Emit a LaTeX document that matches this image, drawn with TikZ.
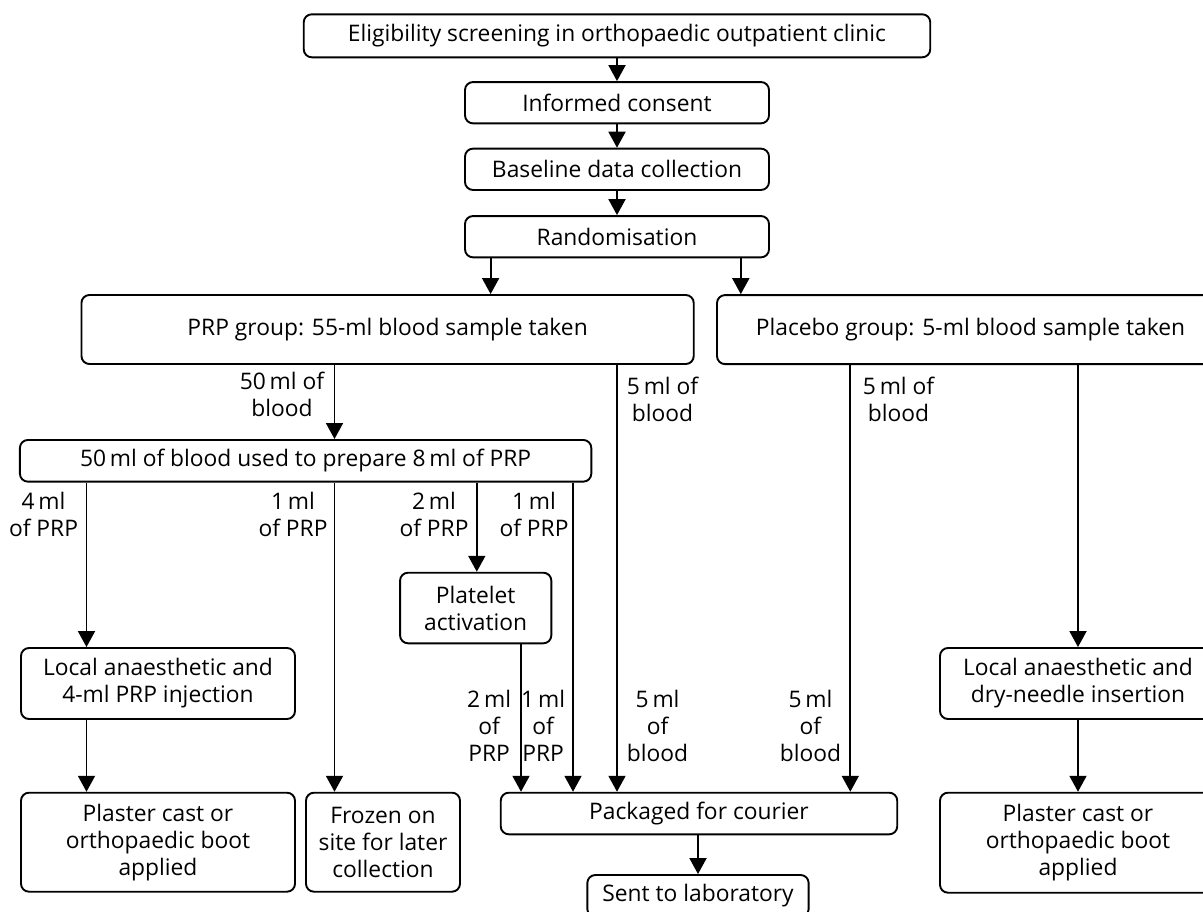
\documentclass[tikz,border=0pt]{standalone}
\usepackage{fontspec}
\setmainfont{Open Sans}
\usetikzlibrary{arrows.meta}
\begin{document}
\begin{tikzpicture}[x=1pt,y=-1pt,
  font=\fontsize{22.8}{27}\selectfont,
  line width=1.9pt,
  box/.style={draw, rounded corners=8pt, inner sep=0pt, align=center, line width=1.9pt},
  arr/.style={-{Triangle[width=17pt,length=16pt]}},
  lbl/.style={align=center, inner sep=0pt}]
\useasboundingbox (0,0) rectangle (1203,911);
\clip (0,0) rectangle (1203,911);

% boxes
\node[box, minimum width=626.5pt, minimum height=43pt] (elig) at (617,35.8) {Eligibility screening in orthopaedic outpatient clinic};
\node[box, minimum width=304pt, minimum height=41.3pt] (consent) at (617,102.7) {Informed consent};
\node[box, minimum width=304pt, minimum height=41.3pt] (base) at (617,169.3) {Baseline data collection};
\node[box, minimum width=304pt, minimum height=41.3pt] (rand) at (617,236.7) {Randomisation};
\node[box, minimum width=612.3pt, minimum height=69pt] (prp) at (387.6,329.5) {PRP group: 55-ml blood sample taken};
\node[box, minimum width=507pt, minimum height=69pt] (plac) at (970.5,329.6) {Placebo group: 5-ml blood sample taken};
\node[box, minimum width=571.4pt, minimum height=41.7pt] (fifty) at (305.6,460.8) {50\,ml of blood used to prepare 8\,ml of PRP};
\node[box, minimum width=151.3pt, minimum height=70.6pt] (act) at (475.7,608) {Platelet\\activation};
\node[box, minimum width=274pt, minimum height=71pt] (loc1) at (158,683.5) {Local anaesthetic and\\4-ml PRP injection};
\node[box, minimum width=274pt, minimum height=99pt] (pl1) at (158,842.2) {Plaster cast or\\orthopaedic boot\\applied};
\node[box, minimum width=154pt, minimum height=99pt] (froz) at (383,842.2) {Frozen on\\site for later\\collection};
\node[box, minimum width=396.5pt, minimum height=41.6pt] (pack) at (699,813.5) {Packaged for courier};
\node[box, minimum width=221.3pt, minimum height=42pt] (sent) at (698,896) {Sent to laboratory};
\node[box, minimum width=276pt, minimum height=71pt] (loc2) at (1078,683.5) {Local anaesthetic and\\dry-needle insertion};
\node[box, minimum width=276pt, minimum height=100pt] (pl2) at (1078,842.7) {Plaster cast or\\orthopaedic boot\\applied};

% x positions of connectors
\coordinate (xR1) at (490.6,0);
\coordinate (xR2) at (740.8,0);
\coordinate (x50) at (334.5,0);
\coordinate (x5a) at (617,0);
\coordinate (x5b) at (850.3,0);
\coordinate (xpl) at (1078,0);
\coordinate (x4) at (86.5,0);
\coordinate (x2) at (476.8,0);
\coordinate (x1b) at (573,0);
\coordinate (xact) at (521,0);

% connectors
\draw[arr] (elig) -- (consent);
\draw[arr] (consent) -- (base);
\draw[arr] (base) -- (rand);
\draw[arr] (rand.south -| xR1) -- (prp.north -| xR1);
\draw[arr] (rand.south -| xR2) -- (plac.north -| xR2);
\draw[arr] (prp.south -| x50) -- (fifty.north -| x50);
\draw[arr] (prp.south -| x5a) -- (pack.north -| x5a);
\draw[arr] (plac.south -| x5b) -- (pack.north -| x5b);
\draw[arr] (plac.south -| xpl) -- (loc2.north -| xpl);
\draw[arr] (loc2) -- (pl2);
\draw[arr] (fifty.south -| x4) -- (loc1.north -| x4);
\draw[arr] (loc1.south -| x4) -- (pl1.north -| x4);
\draw[arr] (fifty.south -| x50) -- (froz.north -| x50);
\draw[arr] (fifty.south -| x2) -- (act.north -| x2);
\draw[arr] (fifty.south -| x1b) -- (pack.north -| x1b);
\draw[arr] (act.south -| xact) -- (pack.north -| xact);
\draw[arr] (pack.south -| sent.north) -- (sent.north);

% labels
\node[lbl, anchor=east] (t50) at (325,394.5) {50\,ml of\\blood};
\node[lbl, anchor=west] (t5a) at (626,399) {5\,ml of\\blood};
\node[lbl, anchor=west] (t5b) at (862,399) {5\,ml of\\blood};
\node[lbl, anchor=east] (t4) at (79,514) {4\,ml\\of PRP};
\node[lbl, anchor=east] (t1a) at (328.5,514) {1\,ml\\of PRP};
\node[lbl, anchor=east] (t2a) at (469.5,514) {2\,ml\\of PRP};
\node[lbl, anchor=east] (t1b) at (569.5,514) {1\,ml\\of PRP};
\node[lbl, anchor=east] (t2b) at (512,726) {2\,ml\\of\\PRP};
\node[lbl, anchor=east] (t1c) at (566,726) {1\,ml\\of\\PRP};
\node[lbl, anchor=west] (t5c) at (626,726) {5\,ml\\of\\blood};
\node[lbl, anchor=east] (t5d) at (842,726) {5\,ml\\of\\blood};
\end{tikzpicture}
\end{document}
